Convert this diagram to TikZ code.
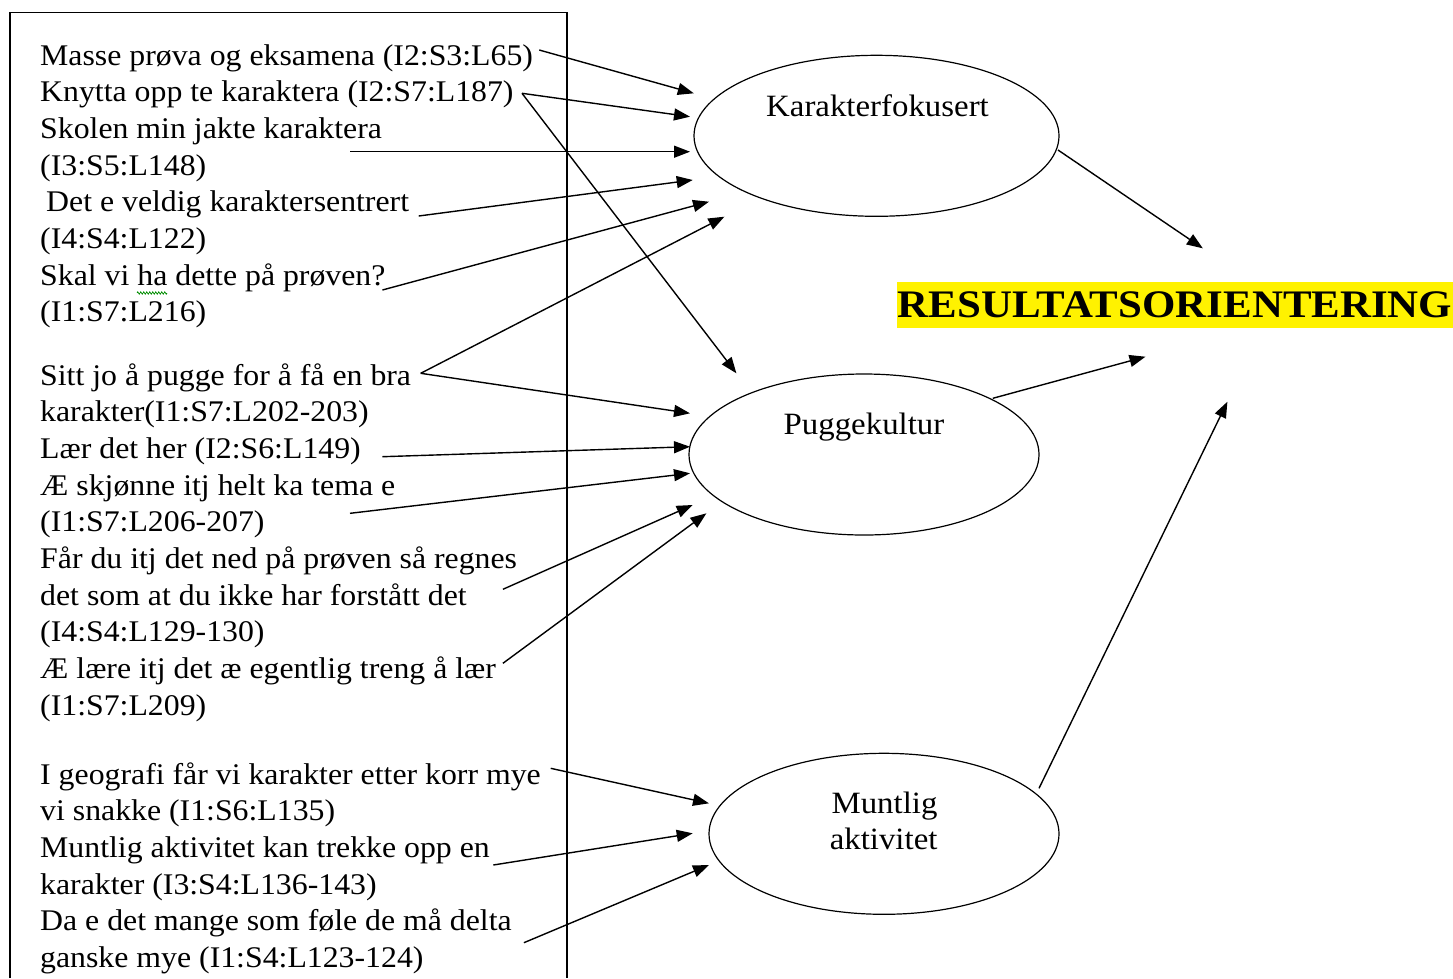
\documentclass[tikz,border=0pt]{standalone}
\usepackage{fontspec}
\setmainfont{Liberation Serif}[FakeStretch=1.06]
\newfontfamily\headfont{Liberation Serif}[FakeStretch=1.1]
\usetikzlibrary{arrows.meta,shapes.geometric,decorations.pathmorphing}

\tikzset{
  quote/.style={anchor=base west, inner sep=0pt, font=\fontsize{30}{36}\selectfont},
  theme/.style={draw, ellipse, line width=1.2pt, inner sep=0pt},
  themelabel/.style={anchor=base, inner sep=0pt, font=\fontsize{31}{36}\selectfont},
  link/.style={line width=1.4pt, -{Triangle[length=16pt,width=12pt]}},
}

\begin{document}
\begin{tikzpicture}[x=1pt,y=-1pt]
\useasboundingbox (0,0) rectangle (1453,978);

% frame around the quotations (open at the bottom)
\draw[line width=1.3pt] (10,978) -- (10,12.5) -- (567,12.5) -- (567,978);

% quotations
\node[quote] (q1)  at (40,65)    {Masse prøva og eksamena (I2:S3:L65)};
\node[quote] (q2)  at (40,101.7) {Knytta opp te karaktera (I2:S7:L187)};
\node[quote] (q3)  at (40,138.3) {Skolen min jakte karaktera};
\node[quote] (q3b) at (40,175)   {(I3:S5:L148)};
\node[quote] (q4)  at (46,211.7) {Det e veldig karaktersentrert};
\node[quote] (q4b) at (40,248.3) {(I4:S4:L122)};
\node[quote] (q5)  at (40,285)   {Skal vi ha dette på prøven?};
\node[quote] (q5b) at (40,321.7) {(I1:S7:L216)};

\node[quote] (q6)  at (40,385)   {Sitt jo å pugge for å få en bra};
\node[quote] (q6b) at (40,421.7) {karakter(I1:S7:L202-203)};
\node[quote] (q7)  at (40,458.3) {Lær det her (I2:S6:L149)};
\node[quote] (q8)  at (40,495)   {Æ skjønne itj helt ka tema e};
\node[quote] (q8b) at (40,531.7) {(I1:S7:L206-207)};
\node[quote] (q9)  at (40,568.3) {Får du itj det ned på prøven så regnes};
\node[quote] (q9b) at (40,605)   {det som at du ikke har forstått det};
\node[quote] (q9c) at (40,641.7) {(I4:S4:L129-130)};
\node[quote] (q10) at (40,678.3) {Æ lære itj\ det æ egentlig treng å lær};
\node[quote] (q10b) at (40,715)  {(I1:S7:L209)};

\node[quote] (q11) at (40,784)   {I geografi får vi karakter etter korr mye};
\node[quote] (q11b) at (40,820.7){vi snakke (I1:S6:L135)};
\node[quote] (q12) at (40,857.3) {Muntlig aktivitet kan trekke opp en};
\node[quote] (q12b) at (40,894) {karakter (I3:S4:L136-143)};
\node[quote] (q13) at (40,930.7) {Da e det mange som føle de må delta};
\node[quote] (q13b) at (40,967.3){ganske mye (I1:S4:L123-124)};

% spelling mark under "ha"
\draw[green!55!black, line width=0.7pt, decorate,
      decoration={zigzag, segment length=3pt, amplitude=1.2pt}] (137,293) -- (167,293);

% themes
\node[theme, minimum width=365pt, minimum height=161pt] (kar) at (876.5,135.8) {};
\node[themelabel] (karl) at (877.5,116) {Karakterfokusert};
\node[theme, minimum width=350pt, minimum height=161pt] (pug) at (864,454.5) {};
\node[themelabel] (pugl) at (864,434) {Puggekultur};
\node[theme, minimum width=350pt, minimum height=161pt] (mun) at (884,833.8) {};
\node[themelabel] (munl) at (884.5,813.3) {Muntlig};
\node[themelabel] (munl2) at (883.6,849.3) {aktivitet};

% main category
\node[fill=yellow, inner sep=0pt, minimum width=556pt, minimum height=46pt,
      font=\headfont\bfseries\fontsize{39}{40}\selectfont] (res) at (1175,305) {RESULTATSORIENTERING};

% connector end points
\coordinate (s1) at (539.2,50);
\coordinate (s2) at (522,93.3);
\coordinate (s3) at (350,151.7);
\coordinate (s4) at (418.7,216);
\coordinate (s5) at (382.4,290);
\coordinate (s6) at (420.7,373.3);
\coordinate (s7) at (382.4,456.7);
\coordinate (s8) at (350,513.3);
\coordinate (s9) at (502.9,589.3);
\coordinate (s10) at (502.9,663.3);
\coordinate (s11) at (550.7,768.3);
\coordinate (s12) at (493.3,865);
\coordinate (s13) at (523.9,942.7);

\coordinate (k1) at (693.8,93.3);
\coordinate (k2) at (690,116.7);
\coordinate (k3) at (690,151.7);
\coordinate (k4) at (692.7,180);
\coordinate (k5) at (709,201.7);
\coordinate (k6) at (724.4,216.7);

\coordinate (p0) at (736.4,373.3);
\coordinate (p1) at (690,413.3);
\coordinate (p2) at (690,446.7);
\coordinate (p3) at (690,473.3);
\coordinate (p4) at (692.7,505);
\coordinate (p5) at (706.4,513.3);

\coordinate (m1) at (709,803.3);
\coordinate (m2) at (692.7,833.3);
\coordinate (m3) at (709,865);

\coordinate (ko) at (1058,150);
\coordinate (po) at (992.8,398.3);
\coordinate (mo) at (1039,788.3);
\coordinate (r1) at (1202.8,248.3);
\coordinate (r2) at (1145.5,356.7);
\coordinate (r3) at (1227.4,401.7);

% quotations -> Karakterfokusert
\draw[link] (s1) -- (k1);
\draw[link] (s2) -- (k2);
\draw[link] (s3) -- (k3);
\draw[link] (s4) -- (k4);
\draw[link] (s5) -- (k5);
\draw[link] (s6) -- (k6);

% quotations -> Puggekultur
\draw[link] (s2) -- (p0);
\draw[link] (s6) -- (p1);
\draw[link] (s7) -- (p2);
\draw[link] (s8) -- (p3);
\draw[link] (s9) -- (p4);
\draw[link] (s10) -- (p5);

% quotations -> Muntlig aktivitet
\draw[link] (s11) -- (m1);
\draw[link] (s12) -- (m2);
\draw[link] (s13) -- (m3);

% themes -> main category
\draw[link] (ko) -- (r1);
\draw[link] (po) -- (r2);
\draw[link] (mo) -- (r3);
\end{tikzpicture}
\end{document}
